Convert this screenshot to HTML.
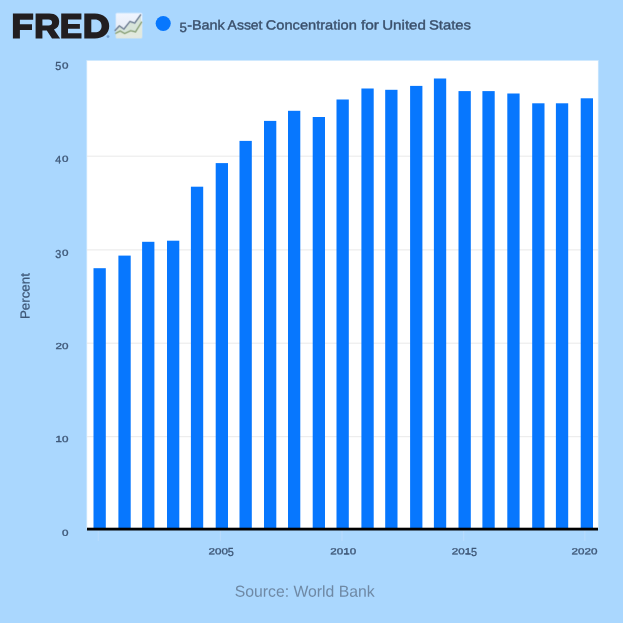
<!DOCTYPE html>
<html>
<head>
<meta charset="utf-8">
<title>5-Bank Asset Concentration for United States</title>
<style>
html,body{margin:0;padding:0;width:623px;height:623px;overflow:hidden;background:#aad7fe;}
svg{display:block;position:absolute;left:0;top:0;will-change:transform;}
text{font-family:"Liberation Sans",sans-serif;text-rendering:geometricPrecision;}
</style>
</head>
<body>
<svg id="chart" width="623" height="623" viewBox="0 0 623 623">
  <defs>
    <linearGradient id="icobg" x1="0" y1="0" x2="0" y2="1">
      <stop offset="0" stop-color="#f6f8ff"/>
      <stop offset="0.55" stop-color="#eef0f6"/>
      <stop offset="1" stop-color="#e6e9dc"/>
    </linearGradient>
  </defs>
  <rect x="0" y="0" width="623" height="623" fill="#aad7fe"/>
  <!-- plot area -->
  <rect x="86.4" y="60.1" width="512.2" height="469" fill="#ffffff" opacity="0.5"/>
  <rect x="87.2" y="61.0" width="510.7" height="468" fill="#ffffff"/>
  <!-- gridlines -->
  <g stroke="#e9e9e9" stroke-width="1">
    <line x1="87" x2="598" y1="156.2" y2="156.2"/>
    <line x1="87" x2="598" y1="249.9" y2="249.9"/>
    <line x1="87" x2="598" y1="343.2" y2="343.2"/>
    <line x1="87" x2="598" y1="436.7" y2="436.7"/>
  </g>
  <!-- bars -->
  <g id="bars" fill="#0777fe">
    <rect x="93.5" y="268.2" width="12.3" height="260.8"/>
    <rect x="118.4" y="255.6" width="12.3" height="273.4"/>
    <rect x="142.1" y="241.8" width="12.3" height="287.2"/>
    <rect x="167.0" y="240.7" width="12.3" height="288.3"/>
    <rect x="190.9" y="186.7" width="12.3" height="342.3"/>
    <rect x="215.7" y="163.1" width="12.3" height="365.9"/>
    <rect x="239.5" y="140.9" width="12.3" height="388.1"/>
    <rect x="264.0" y="120.9" width="12.3" height="408.1"/>
    <rect x="288.0" y="110.8" width="12.3" height="418.2"/>
    <rect x="312.7" y="117.0" width="12.3" height="412.0"/>
    <rect x="336.5" y="99.5" width="12.3" height="429.5"/>
    <rect x="361.4" y="88.5" width="12.3" height="440.5"/>
    <rect x="385.2" y="89.8" width="12.3" height="439.2"/>
    <rect x="410.1" y="85.9" width="12.3" height="443.1"/>
    <rect x="433.9" y="78.5" width="12.3" height="450.5"/>
    <rect x="458.5" y="91.1" width="12.3" height="437.9"/>
    <rect x="482.4" y="91.1" width="12.3" height="437.9"/>
    <rect x="507.3" y="93.5" width="12.3" height="435.5"/>
    <rect x="532.2" y="103.3" width="12.3" height="425.7"/>
    <rect x="555.9" y="103.3" width="12.3" height="425.7"/>
    <rect x="580.7" y="98.3" width="12.3" height="430.7"/>
  </g>
  <!-- x axis line -->
  <rect x="87" y="527.7" width="511" height="2.8" fill="#000000"/>
  <!-- ticks -->
  <g stroke="#b7dbfd" stroke-width="1.2">
    <line x1="98.3" x2="98.3" y1="531" y2="541"/>
    <line x1="220.4" x2="220.4" y1="531" y2="541"/>
    <line x1="342.0" x2="342.0" y1="531" y2="541"/>
    <line x1="463.6" x2="463.6" y1="531" y2="541"/>
    <line x1="584.8" x2="584.8" y1="531" y2="541"/>
  </g>
  <!-- x labels -->
  <g fill="#3f5878" stroke="#3f5878" stroke-width="0.32">
    <text transform="translate(208.60,554.30) rotate(0.03)" font-size="8.7" textLength="6.5" lengthAdjust="spacingAndGlyphs">2</text>
    <text transform="translate(215.10,554.30) rotate(0.03)" font-size="8.7" textLength="6.5" lengthAdjust="spacingAndGlyphs">0</text>
    <text transform="translate(221.60,554.30) rotate(0.03)" font-size="8.7" textLength="6.5" lengthAdjust="spacingAndGlyphs">0</text>
    <text transform="translate(227.85,556.10) rotate(0.03)" font-size="11.6" textLength="6.0" lengthAdjust="spacingAndGlyphs">5</text>
    <text transform="translate(330.30,554.30) rotate(0.03)" font-size="8.7" textLength="6.5" lengthAdjust="spacingAndGlyphs">2</text>
    <text transform="translate(336.80,554.30) rotate(0.03)" font-size="8.7" textLength="6.5" lengthAdjust="spacingAndGlyphs">0</text>
    <text transform="translate(343.30,554.30) rotate(0.03)" font-size="8.7" textLength="6.5" lengthAdjust="spacingAndGlyphs">1</text>
    <rect x="344.00" y="553.35" width="4.7" height="0.95" stroke="none"/>
    <text transform="translate(349.80,554.30) rotate(0.03)" font-size="8.7" textLength="6.5" lengthAdjust="spacingAndGlyphs">0</text>
    <text transform="translate(451.80,554.30) rotate(0.03)" font-size="8.7" textLength="6.5" lengthAdjust="spacingAndGlyphs">2</text>
    <text transform="translate(458.30,554.30) rotate(0.03)" font-size="8.7" textLength="6.5" lengthAdjust="spacingAndGlyphs">0</text>
    <text transform="translate(464.80,554.30) rotate(0.03)" font-size="8.7" textLength="6.5" lengthAdjust="spacingAndGlyphs">1</text>
    <rect x="465.50" y="553.35" width="4.7" height="0.95" stroke="none"/>
    <text transform="translate(471.05,556.10) rotate(0.03)" font-size="11.6" textLength="6.0" lengthAdjust="spacingAndGlyphs">5</text>
    <text transform="translate(571.50,554.30) rotate(0.03)" font-size="8.7" textLength="6.5" lengthAdjust="spacingAndGlyphs">2</text>
    <text transform="translate(578.00,554.30) rotate(0.03)" font-size="8.7" textLength="6.5" lengthAdjust="spacingAndGlyphs">0</text>
    <text transform="translate(584.50,554.30) rotate(0.03)" font-size="8.7" textLength="6.5" lengthAdjust="spacingAndGlyphs">2</text>
    <text transform="translate(591.00,554.30) rotate(0.03)" font-size="8.7" textLength="6.5" lengthAdjust="spacingAndGlyphs">0</text>
  </g>
  <!-- y labels -->
  <g fill="#3f5878" stroke="#3f5878" stroke-width="0.32">
    <text transform="translate(55.35,70.40) rotate(0.03)" font-size="11.6" textLength="6.0" lengthAdjust="spacingAndGlyphs">5</text>
    <text transform="translate(62.10,68.60) rotate(0.03)" font-size="8.7" textLength="6.5" lengthAdjust="spacingAndGlyphs">0</text>
    <text transform="translate(55.15,163.15) rotate(0.03)" font-size="10.7" textLength="6.0" lengthAdjust="spacingAndGlyphs">4</text>
    <text transform="translate(61.90,161.80) rotate(0.03)" font-size="8.7" textLength="6.5" lengthAdjust="spacingAndGlyphs">0</text>
    <text transform="translate(55.15,257.50) rotate(0.03)" font-size="11.6" textLength="6.0" lengthAdjust="spacingAndGlyphs">3</text>
    <text transform="translate(61.90,255.70) rotate(0.03)" font-size="8.7" textLength="6.5" lengthAdjust="spacingAndGlyphs">0</text>
    <text transform="translate(55.40,348.90) rotate(0.03)" font-size="8.7" textLength="6.5" lengthAdjust="spacingAndGlyphs">2</text>
    <text transform="translate(61.90,348.90) rotate(0.03)" font-size="8.7" textLength="6.5" lengthAdjust="spacingAndGlyphs">0</text>
    <text transform="translate(55.40,441.90) rotate(0.03)" font-size="8.7" textLength="6.5" lengthAdjust="spacingAndGlyphs">1</text>
    <rect x="56.10" y="440.95" width="4.7" height="0.95" stroke="none"/>
    <text transform="translate(61.90,441.90) rotate(0.03)" font-size="8.7" textLength="6.5" lengthAdjust="spacingAndGlyphs">0</text>
    <text transform="translate(61.90,535.80) rotate(0.03)" font-size="8.7" textLength="6.5" lengthAdjust="spacingAndGlyphs">0</text>
  </g>
  <!-- y title -->
  <text id="ytitle" transform="translate(29.5,319.1) rotate(-90.03)" font-size="13" fill="#3f5878" stroke="#3f5878" stroke-width="0.25" textLength="46" lengthAdjust="spacingAndGlyphs">Percent</text>
  <!-- legend -->
  <circle cx="163.2" cy="23.5" r="7.55" fill="#0777fe"/>
  <g id="legend" font-size="13.3" fill="#3a4f6a" stroke="#3a4f6a" stroke-width="0.38">
    <text transform="translate(179.6,31.9) rotate(0.03)" textLength="7.4" lengthAdjust="spacingAndGlyphs">5</text>
    <text transform="translate(187.2,29.4) rotate(0.03)" textLength="37.6" lengthAdjust="spacingAndGlyphs">-Bank</text>
    <text transform="translate(227.6,29.4) rotate(0.03)" textLength="34.9" lengthAdjust="spacingAndGlyphs">Asset</text>
    <text transform="translate(265.8,29.4) rotate(0.03)" textLength="91" lengthAdjust="spacingAndGlyphs">Concentration</text>
    <text transform="translate(360.9,29.4) rotate(0.03)" textLength="18.0" lengthAdjust="spacingAndGlyphs">for</text>
    <text transform="translate(382.2,29.4) rotate(0.03)" textLength="43.7" lengthAdjust="spacingAndGlyphs">United</text>
    <text transform="translate(428.9,29.4) rotate(0.03)" textLength="42" lengthAdjust="spacingAndGlyphs">States</text>
  </g>
  <!-- source -->
  <text id="source" transform="translate(234.8,596.8) rotate(0.03)" font-size="16" fill="#6f89a5" textLength="139.9" lengthAdjust="spacingAndGlyphs">Source: World Bank</text>
  <!-- FRED logo -->
  <g id="fred" fill="#221e20" fill-rule="evenodd">
    <path d="M12.9,13.5 H33.2 V19.8 H19.9 V24.2 H32 V30 H19.9 V38.5 H12.9 Z"/>
    <path d="M35.6,13.5 H49.3 C55.6,13.5 59.2,16.6 59.2,21.8 C59.2,25.7 57.3,28.3 54,29.6 L60.1,38.5 H52 L46.8,30.6 H42.4 V38.5 H35.6 Z M42.4,19.5 V25.5 H48.5 C50.8,25.5 52.1,24.3 52.1,22.5 C52.1,20.6 50.8,19.5 48.5,19.5 Z"/>
    <path d="M61.2,13.5 H81.4 V19.5 H68 V23.9 H79.9 V28.8 H68 V33.2 H81.5 V38.5 H61.2 Z"/>
    <path d="M84.3,13.5 H94.8 C103.5,13.5 109.2,18.7 109.2,26 C109.2,33.3 103.5,38.5 94.8,38.5 H84.3 Z M91.3,19.6 V32.3 H94.8 C98.9,32.3 101.6,29.9 101.6,25.95 C101.6,22 98.9,19.6 94.8,19.6 Z"/>
  </g>
  <circle cx="108.0" cy="36.6" r="1.4" fill="#6a93c6" opacity="0.85"/>
  <!-- FRED icon -->
  <g id="icon" opacity="0.92">
    <rect x="115.3" y="12.6" width="27.4" height="26.4" rx="2" fill="url(#icobg)" opacity="0.45"/>
    <rect x="116.2" y="13.5" width="25.6" height="24.6" rx="1.2" fill="url(#icobg)"/>
    <path d="M116.2,33.3 L120.2,31.1 L124.7,33.5 L130.7,30.7 L135.5,31.9 L141.5,22.3 L141.8,22.3 L141.8,35.5 L116.2,35.5 Z" fill="#e6ebd9" opacity="0.9"/>
    <path d="M116.2,29.8 L119.4,25.9 L123.9,29.1 L129.9,21.5 L134.7,23.1 L140.5,15 L141.5,22.3 L135.5,31.9 L130.7,30.7 L124.7,33.5 L120.2,31.1 L116.2,33.3 Z" fill="#d9e4d4" opacity="0.9"/>
    <g fill="none" stroke-linejoin="round" stroke-linecap="round">
      <path d="M115.8,33.3 L120.2,31.1 L124.7,33.5 L130.7,30.7 L135.5,31.9 L141.5,22.3" stroke="#93a67c" stroke-width="2.4" opacity="0.35"/>
      <path d="M115.8,33.3 L120.2,31.1 L124.7,33.5 L130.7,30.7 L135.5,31.9 L141.5,22.3" stroke="#8fa377" stroke-width="1.1" opacity="0.9"/>
      <path d="M115.2,30.3 L119.4,25.9 L123.9,29.1 L129.9,21.5 L134.7,23.1 L140.5,15" stroke="#768294" stroke-width="2.4" opacity="0.35"/>
      <path d="M115.2,30.3 L119.4,25.9 L123.9,29.1 L129.9,21.5 L134.7,23.1 L140.5,15" stroke="#6f7b8e" stroke-width="1.1" opacity="0.9"/>
    </g>
  </g>
</svg>
</body>
</html>
